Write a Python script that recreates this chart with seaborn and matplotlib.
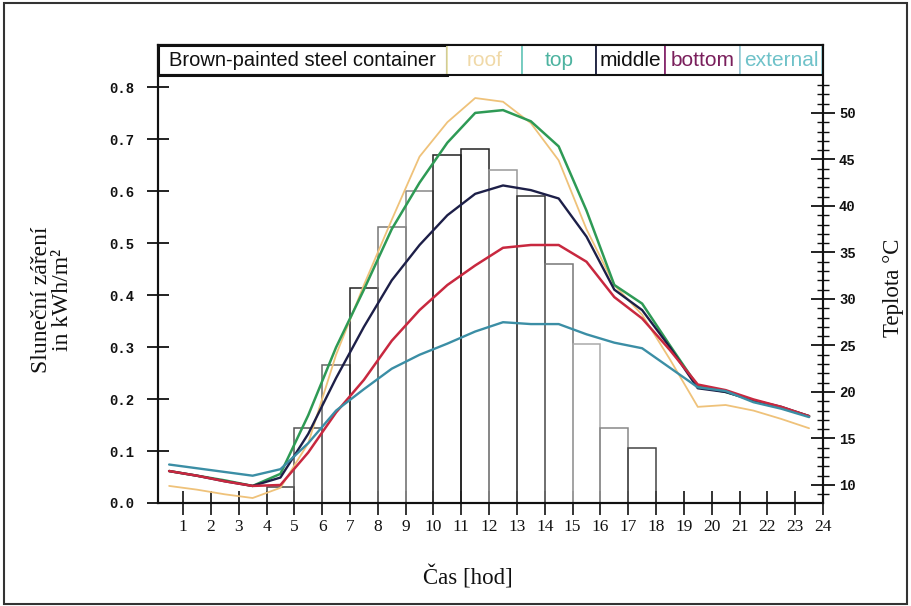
import numpy as np
import pandas as pd
import matplotlib
matplotlib.use("Agg")
import matplotlib.pyplot as plt
from matplotlib.patches import Rectangle
from matplotlib.lines import Line2D
from matplotlib.ticker import FixedLocator, FuncFormatter
import seaborn as sns

# Hour of day; every value belongs to the hour interval ending at that hour
hours = list(range(1, 25))

# Hourly solar irradiation, kWh/m2
rad_hours = [5, 6, 7, 8, 9, 10, 11, 12, 13, 14, 15, 16, 17, 18]
radiation = [0.03, 0.145, 0.265, 0.413, 0.53, 0.60, 0.67, 0.68,
             0.64, 0.59, 0.46, 0.305, 0.145, 0.105]

# Temperatures in the brown-painted steel container, °C
t_roof = [9.9, 9.5, 9.0, 8.6, 9.7, 14.5, 24.0, 31.5, 38.5, 45.3, 49.0, 51.6,
          51.2, 48.9, 44.9, 37.5, 31.5, 28.3, 23.5, 18.4, 18.6, 18.0, 17.1, 16.1]
t_top = [11.5, 11.0, 10.5, 9.9, 11.2, 17.5, 24.8, 31.0, 37.5, 42.5, 46.8, 50.0,
         50.3, 49.1, 46.4, 39.5, 31.5, 29.5, 25.0, 20.6, 20.0, 19.1, 18.3, 17.4]
t_middle = [11.5, 11.0, 10.4, 9.9, 10.8, 15.5, 21.5, 27.0, 32.0, 35.8, 39.0, 41.3,
            42.2, 41.7, 40.8, 36.7, 31.0, 28.8, 24.8, 20.4, 20.0, 19.1, 18.4, 17.4]
t_bottom = [11.5, 11.0, 10.4, 9.9, 10.0, 13.5, 17.8, 21.3, 25.5, 28.8, 31.5, 33.6,
            35.5, 35.8, 35.8, 34.0, 30.2, 27.9, 24.5, 20.8, 20.2, 19.2, 18.4, 17.4]
t_external = [12.2, 11.8, 11.4, 11.0, 11.7, 14.5, 18.0, 20.3, 22.5, 24.0, 25.2, 26.5,
              27.5, 27.3, 27.3, 26.2, 25.3, 24.7, 22.6, 20.5, 20.1, 18.9, 18.2, 17.3]

series_names = ["roof", "top", "middle", "bottom", "external"]
series_values = [t_roof, t_top, t_middle, t_bottom, t_external]

line_colors = {"roof": "#efc27a", "top": "#2e9a55", "middle": "#1d1f48",
               "bottom": "#c8283f", "external": "#3b8ea5"}
line_widths = {"roof": 1.3, "top": 1.8, "middle": 1.7, "bottom": 1.8, "external": 1.7}
header_text_colors = {"roof": "#f0d9a8", "top": "#4db3a0", "middle": "#111111",
                      "bottom": "#7a1f5c", "external": "#6fc2c9"}
header_edge_colors = {"roof": "#e6e0a6", "top": "#6cc9bf", "middle": "#1a1a3a",
                      "bottom": "#8e2c72", "external": "#9fd3da"}
bar_edges = ["#444444", "#555555", "#666666", "#222222", "#777777", "#888888", "#222222",
             "#222222", "#999999", "#333333", "#777777", "#aaaaaa", "#888888", "#444444"]

sns.set_theme(style="white")
plt.rcParams["font.family"] = ["Liberation Serif", "DejaVu Serif"]

fig = plt.figure(figsize=(9.11, 6.06), dpi=100)
ax1 = fig.add_axes([158 / 911, 1 - 503 / 606, 665 / 911, 458 / 606])
ax2 = ax1.twinx()

# Irradiation bars on the left axis
bar_left = [h - 1 for h in rad_hours]
ax1.bar(bar_left, radiation, width=1.0, align="edge", fill=False,
        edgecolor=bar_edges, linewidth=1.1, zorder=2)

# Temperature curves on the right axis
df = pd.DataFrame({
    "time": [h - 0.5 for h in hours] * len(series_names),
    "temp": [v for vals in series_values for v in vals],
    "series": [n for n in series_names for _ in hours],
})
for name in series_names:
    sns.lineplot(data=df[df["series"] == name], x="time", y="temp",
                 color=line_colors[name], linewidth=line_widths[name],
                 sort=False, ax=ax2, legend=False)

# Axis ranges
ax1.set_xlim(0.1, 24.0)
ax1.set_ylim(0.0, 0.881)
ax2.set_ylim(8.065, 57.3)

# Left axis ticks
ax1.set_yticks(np.arange(0.0, 0.81, 0.1))
ax1.yaxis.set_major_formatter(FuncFormatter(lambda v, p: f"{v:.1f}"))
ax1.set_xticks(hours)
ax1.set_xticklabels([str(h) for h in hours])
ax1.tick_params(axis="y", direction="inout", length=16, width=1.3, pad=9,
                labelsize=10, colors="#111111", left=True)
ax1.tick_params(axis="x", direction="inout", length=17, width=1.2, pad=3,
                labelsize=12.5, colors="#111111", bottom=True)
for lab in ax1.get_yticklabels():
    lab.set_fontfamily(["Liberation Mono", "DejaVu Sans Mono"])
    lab.set_fontweight("bold")

# Right axis ticks
ax2.yaxis.set_major_locator(FixedLocator(list(range(10, 51, 5))))
ax2.yaxis.set_minor_locator(FixedLocator([t for t in range(9, 54) if t % 5 != 0]))
ax2.yaxis.set_major_formatter(FuncFormatter(lambda v, p: f"{v:.0f}"))
ax2.tick_params(axis="y", which="major", direction="inout", length=17, width=1.3,
                pad=3, labelsize=10, colors="#111111", right=True)
ax2.tick_params(axis="y", which="minor", direction="inout", length=8, width=1.0,
                right=True, colors="#111111")
for lab in ax2.get_yticklabels():
    lab.set_fontfamily(["Liberation Mono", "DejaVu Sans Mono"])
    lab.set_fontweight("bold")

for ax in (ax1, ax2):
    for sp in ax.spines.values():
        sp.set_color("#111111")
        sp.set_linewidth(1.5)
ax2.set_xlabel("")
ax2.set_ylabel("")

# Header row with the title and the series names
bounds = [0.0, 0.4346, 0.5474, 0.6586, 0.7624, 0.8752, 0.9985]
row_bottom = 1 - 30 / 458
ax1.add_patch(Rectangle((bounds[0], row_bottom), bounds[1] - bounds[0], 1 - row_bottom,
                        transform=ax1.transAxes, fill=True, facecolor="white",
                        edgecolor="#111111", linewidth=2.2, clip_on=False, zorder=5))
ax1.text((bounds[0] + bounds[1]) / 2, (row_bottom + 1) / 2, "Brown-painted steel container",
         transform=ax1.transAxes, ha="center", va="center", fontsize=14.5,
         family=["Liberation Sans", "DejaVu Sans"], color="#111111", zorder=6)
for i, name in enumerate(series_names):
    x0, x1 = bounds[i + 1], bounds[i + 2]
    ax1.add_patch(Rectangle((x0, row_bottom), x1 - x0, 1 - row_bottom,
                            transform=ax1.transAxes, fill=True, facecolor="white",
                            edgecolor=header_edge_colors[name], linewidth=1.3,
                            clip_on=False, zorder=5))
    ax1.text((x0 + x1) / 2, (row_bottom + 1) / 2, name, transform=ax1.transAxes,
             ha="center", va="center", fontsize=15,
             family=["Liberation Sans", "DejaVu Sans"],
             color=header_text_colors[name], zorder=6)
ax1.add_line(Line2D([0, 1], [row_bottom, row_bottom], transform=ax1.transAxes,
                    color="#111111", linewidth=1.5, zorder=7, clip_on=False))

# Axis titles
fig.text(52 / 911, 1 - 300 / 606, "Sluneční záření\nin kWh/m²", rotation=90,
         ha="center", va="center", fontsize=17, linespacing=1.0, color="#111111")
fig.text(893 / 911, 1 - 288 / 606, "Teplota °C", rotation=90,
         ha="center", va="center", fontsize=16.5, color="#111111")
fig.text(468 / 911, 1 - 578 / 606, "Čas [hod]", ha="center", va="center",
         fontsize=16.5, color="#111111")

# Outer border
fig.patches.append(Rectangle((0.004, 0.004), 0.992, 0.991, transform=fig.transFigure,
                             fill=False, edgecolor="#333333", linewidth=1.5))

fig.savefig("out.png", dpi=100)
